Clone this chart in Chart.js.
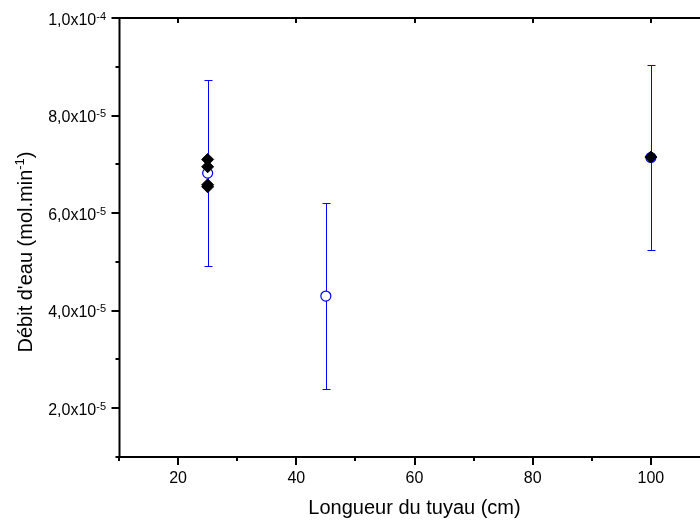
<!DOCTYPE html>
<html>
<head>
<meta charset="utf-8">
<script src="https://cdn.jsdelivr.net/npm/chart.js@4.4.1/dist/chart.umd.min.js"></script>
<style>
  html, body { margin: 0; padding: 0; background: #fff; overflow: hidden; }
  #wrap { position: relative; width: 730px; height: 524px; }
</style>
</head>
<body>
<div id="wrap"><canvas id="c"></canvas></div>
<script>
// ===== DATA =====
// mesures moyennes (cercles) avec barres d'erreur
const circleX = [25, 45, 100]
const circleY = [6.82e-5, 4.30e-5, 7.14e-5]
const circleErr = [1.9e-5, 1.9e-5, 1.9e-5]

// mesures individuelles (losanges)
const diamondX = [25, 25, 25, 25, 100]
const diamondY = [7.10e-5, 6.95e-5, 6.58e-5, 6.54e-5, 7.15e-5]

// axes
const xMajor = [20, 40, 60, 80, 100]
const xMinor = [10, 30, 50, 70, 90, 110]
const yMajor = [2e-5, 4e-5, 6e-5, 8e-5, 1e-4]
const yMinor = [1e-5, 3e-5, 5e-5, 7e-5, 9e-5]
const yTickText = ['2,0x10', '4,0x10', '6,0x10', '8,0x10', '1,0x10']
const yTickExp = ['-5', '-5', '-5', '-5', '-4']

const FONT = '"Liberation Sans", Arial, sans-serif'

// ===== PLUGIN : barres d'erreur =====
const errorBars = {
  id: 'errorBars',
  beforeDatasetsDraw(chart) {
    const { ctx, scales: { x, y } } = chart
    ctx.save()
    ctx.strokeStyle = '#0000ff'
    ctx.lineWidth = 1
    circleX.forEach((vx, i) => {
      const px = Math.round(x.getPixelForValue(vx)) + 0.5
      const top = Math.round(y.getPixelForValue(circleY[i] + circleErr[i])) + 0.5
      const bot = Math.round(y.getPixelForValue(circleY[i] - circleErr[i])) + 0.5
      ctx.beginPath()
      ctx.moveTo(px, top); ctx.lineTo(px, bot)
      ctx.moveTo(px - 4, top); ctx.lineTo(px + 4, top)
      ctx.moveTo(px - 4, bot); ctx.lineTo(px + 4, bot)
      ctx.stroke()
    })
    ctx.restore()
  }
}

// ===== PLUGIN : cadre, graduations, labels Y =====
const axesFrame = {
  id: 'axesFrame',
  afterDraw(chart) {
    const { ctx, chartArea: a, scales: { x, y } } = chart
    ctx.save()
    ctx.strokeStyle = '#000'
    ctx.lineWidth = 2
    const L = 119.5, B = 457, T = 18
    ctx.beginPath()
    ctx.moveTo(L, T); ctx.lineTo(L, B)
    ctx.moveTo(L - 1, B); ctx.lineTo(a.right, B)
    ctx.moveTo(L - 1, T); ctx.lineTo(a.right, T)
    ctx.moveTo(a.right, T); ctx.lineTo(a.right, B)
    // graduations X
    xMajor.forEach(v => {
      const px = Math.round(x.getPixelForValue(v))
      ctx.moveTo(px, B); ctx.lineTo(px, B + 8)
      ctx.moveTo(px, T); ctx.lineTo(px, T + 5)
    })
    xMinor.forEach(v => {
      const px = Math.round(x.getPixelForValue(v))
      ctx.moveTo(px, B); ctx.lineTo(px, B + 4)
    })
    // graduations Y
    yMajor.forEach(v => {
      const py = Math.round(y.getPixelForValue(v))
      ctx.moveTo(L, py); ctx.lineTo(L - 8, py)
    })
    yMinor.forEach(v => {
      const py = Math.round(y.getPixelForValue(v))
      ctx.moveTo(L, py); ctx.lineTo(L - 4, py)
    })
    ctx.stroke()

    // labels Y avec exposant
    ctx.fillStyle = '#000'
    ctx.textBaseline = 'alphabetic'
    yMajor.forEach((v, i) => {
      const py = y.getPixelForValue(v)
      const right = 106
      ctx.font = '11px ' + FONT
      ctx.textAlign = 'right'
      const ew = ctx.measureText(yTickExp[i]).width
      ctx.fillText(yTickExp[i], right, py + 1.5)
      ctx.font = '16px ' + FONT
      ctx.fillText(yTickText[i], right - ew, py + 6.5)
    })

    // titre Y
    ctx.translate(32, 252)
    ctx.rotate(-Math.PI / 2)
    const p1 = "Débit d'eau (mol.min", p2 = '-1', p3 = ')'
    ctx.font = '20px ' + FONT
    const w1 = ctx.measureText(p1).width, w3 = ctx.measureText(p3).width
    ctx.font = '13px ' + FONT
    const w2 = ctx.measureText(p2).width
    let sx = -(w1 + w2 + w3) / 2
    ctx.textAlign = 'left'
    ctx.font = '20px ' + FONT
    ctx.fillText(p1, sx, 0)
    ctx.font = '13px ' + FONT
    ctx.fillText(p2, sx + w1, -8)
    ctx.font = '20px ' + FONT
    ctx.fillText(p3, sx + w1 + w2, 0)
    ctx.restore()
  }
}

const ctx = document.getElementById('c').getContext('2d')
new Chart(ctx, {
  type: 'scatter',
  data: {
    datasets: [
      {
        label: 'mesures',
        data: diamondX.map((v, i) => ({ x: v, y: diamondY[i] })),
        pointStyle: 'rectRot',
        pointRadius: 6,
        backgroundColor: '#000',
        borderColor: '#000',
        borderWidth: 1
      },
      {
        label: 'moyenne',
        data: circleX.map((v, i) => ({ x: v, y: circleY[i] })),
        pointStyle: 'circle',
        pointRadius: 5,
        backgroundColor: '#fff',
        borderColor: '#0000ff',
        borderWidth: 1.2
      }
    ]
  },
  options: {
    responsive: true,
    maintainAspectRatio: false,
    animation: false,
    layout: { padding: { left: 0, top: 18, right: 20, bottom: 0 } },
    plugins: {
      legend: { display: false },
      tooltip: { enabled: false }
    },
    scales: {
      x: {
        type: 'linear',
        min: 10,
        max: 110,
        grid: { display: false, drawTicks: false },
        border: { display: false },
        afterBuildTicks: scale => { scale.ticks = xMajor.map(v => ({ value: v })) },
        afterFit: scale => { scale.height = 67 },
        ticks: {
          color: '#000',
          padding: 12,
          maxRotation: 0,
          font: { family: FONT, size: 16 }
        },
        title: {
          display: true,
          text: 'Longueur du tuyau (cm)',
          color: '#000',
          padding: { top: 0, bottom: 4 },
          font: { family: FONT, size: 20 }
        }
      },
      y: {
        type: 'linear',
        min: 1e-5,
        max: 1e-4,
        grid: { display: false, drawTicks: false },
        border: { display: false },
        ticks: { display: false },
        afterFit: scale => { scale.width = 119 }
      }
    }
  },
  plugins: [errorBars, axesFrame]
})
</script>
</body>
</html>
